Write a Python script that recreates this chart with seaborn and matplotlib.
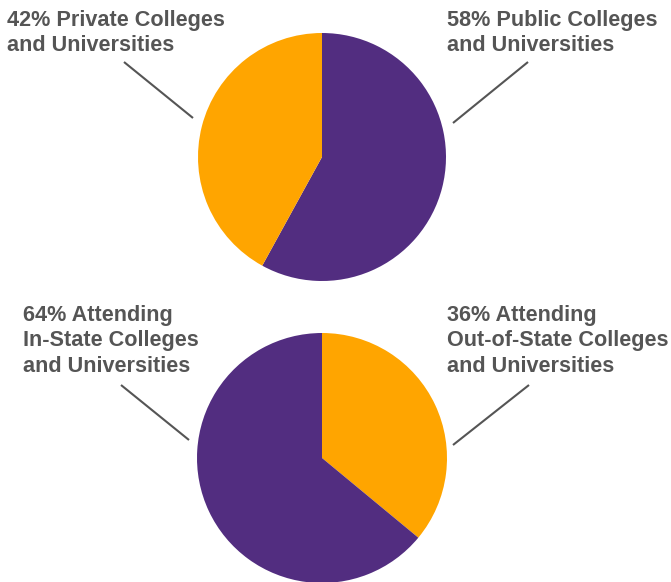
import matplotlib
matplotlib.use("Agg")
import matplotlib.pyplot as plt
import seaborn as sns

# ---- data ----
type_labels = ["Public Colleges\nand Universities", "Private Colleges\nand Universities"]
type_values = [58, 42]
state_labels = ["Out-of-State Colleges\nand Universities", "In-State Colleges\nand Universities"]
state_values = [36, 64]

PURPLE = "#522D80"
ORANGE = "#FFA500"
TEXT = "#555555"

sns.set_style("white")
plt.rcParams["font.family"] = ["Liberation Sans", "DejaVu Sans"]

W, H = 671, 582
fig = plt.figure(figsize=(W / 100, H / 100), dpi=100)
ax = fig.add_axes([0, 0, 1, 1])

def py(y):
    return H - y

# top pie: public (purple) clockwise from top
ax.pie(type_values, colors=[PURPLE, ORANGE], startangle=90, counterclock=False,
       center=(322, py(157)), radius=124, frame=True,
       wedgeprops=dict(linewidth=0))
# bottom pie: out-of-state (orange) clockwise from top
ax.pie(state_values, colors=[ORANGE, PURPLE], startangle=90, counterclock=False,
       center=(322, py(458)), radius=125, frame=True,
       wedgeprops=dict(linewidth=0))

ax.set_xlim(0, W)
ax.set_ylim(0, H)
ax.set_aspect("auto")
ax.axis("off")

fs = 15.6
kw = dict(ha="left", va="top", fontsize=fs, fontweight="bold", color=TEXT, linespacing=1.28)
ax.text(7, py(10), f"{type_values[1]}% {type_labels[1]}", **kw)
ax.text(447, py(10), f"{type_values[0]}% {type_labels[0]}", **kw)
ax.text(23, py(305), f"{state_values[1]}% Attending\n{state_labels[1]}", **kw)
ax.text(447, py(305), f"{state_values[0]}% Attending\n{state_labels[0]}", **kw)

lkw = dict(color=TEXT, linewidth=1.5, solid_capstyle="butt")
ax.plot([124, 193], [py(62), py(118)], **lkw)
ax.plot([528, 453], [py(62), py(123)], **lkw)
ax.plot([121, 189], [py(385), py(440)], **lkw)
ax.plot([529, 453], [py(385), py(445)], **lkw)

fig.savefig("out.png", dpi=100, facecolor="white")
